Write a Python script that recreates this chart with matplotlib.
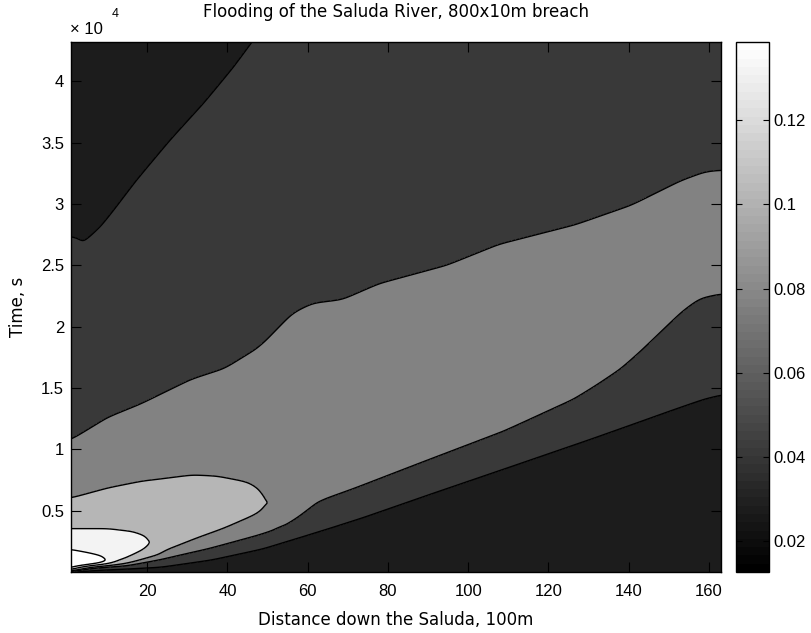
import numpy as np
import matplotlib
matplotlib.use("Agg")
import matplotlib.pyplot as plt
from matplotlib.colors import ListedColormap, Normalize
from matplotlib.cm import ScalarMappable

plt.rcParams['font.family'] = ['Liberation Sans', 'DejaVu Sans']

# ---------------- data ----------------
# depth contour levels (m); each filled band takes the colour of its lower level
levels = [0.027, 0.042, 0.076, 0.103, 0.131, 0.137]
depth_min, depth_max = 0.0127, 0.1386
base_depth = 0.030

# crossing times (units of 1e4 s) of each depth level along the river (x in 100 m)
# level 0.042
x_rise_042 = [1, 10, 23, 35.5, 48, 56.3, 64.7, 73, 90, 110, 130, 150, 158, 163]
t_rise_042 = [0.002, 0.02, 0.04, 0.10, 0.19, 0.275, 0.357, 0.445, 0.64, 0.865, 1.09, 1.32, 1.41, 1.45]
x_fall_042 = [1, 3, 5.5, 10.5, 18.8, 27.2, 35.5, 43, 47.2, 60, 100, 163]
t_fall_042 = [2.73, 2.66, 2.68, 2.84, 3.2, 3.53, 3.83, 4.13, 4.32, 4.86, 6.5, 9.0]
# level 0.076
x_rise_076 = [1, 6, 14.7, 23, 35.5, 48, 56.3, 59.7, 63.8, 73, 90, 110, 127.2, 133, 138.8, 143.8, 149.7, 153.8, 158, 163]
t_rise_076 = [0.004, 0.03, 0.05, 0.10, 0.19, 0.30, 0.385, 0.467, 0.576, 0.685, 0.9, 1.15, 1.41, 1.53, 1.66, 1.81, 2.0, 2.13, 2.23, 2.265]
x_fall_076 = [1, 10.5, 18.8, 31.3, 39.7, 48, 56.3, 61.3, 68.8, 78, 95, 108, 127.2, 141.3, 153.8, 159.7, 163]
t_fall_076 = [1.068, 1.26, 1.37, 1.57, 1.66, 1.83, 2.11, 2.19, 2.22, 2.35, 2.5, 2.67, 2.83, 2.99, 3.19, 3.26, 3.27]
# level 0.103
x_rise_103 = [1, 6.3, 14.7, 23, 33, 39.7, 47.2, 50.5]
t_rise_103 = [0.006, 0.04, 0.07, 0.14, 0.275, 0.357, 0.47, 0.56]
x_fall_103 = [1, 10.5, 18.8, 31.3, 37.2, 44.7, 48.8, 50.5]
t_fall_103 = [0.60, 0.685, 0.74, 0.79, 0.78, 0.73, 0.63, 0.56]
# level 0.131
x_rise_131 = [1, 4.7, 10.5, 16.3, 20.5, 22.2]
t_rise_131 = [0.008, 0.04, 0.06, 0.11, 0.19, 0.25]
x_fall_131 = [1, 10.5, 17.2, 21.3, 22.2]
t_fall_131 = [0.357, 0.357, 0.33, 0.27, 0.25]
# level 0.137
x_rise_137 = [1, 4.7, 9.2, 11.2]
t_rise_137 = [0.01, 0.04, 0.07, 0.095]
x_fall_137 = [1, 6.3, 10, 11.2]
t_fall_137 = [0.19, 0.155, 0.12, 0.095]

x_ticks = [20, 40, 60, 80, 100, 120, 140, 160]
y_ticks = [5000, 10000, 15000, 20000, 25000, 30000, 35000, 40000]
cbar_ticks = [0.02, 0.04, 0.06, 0.08, 0.10, 0.12]
x_range = (1, 163)
t_range = (0, 43200)

# ---------------- build depth field ----------------
crossings = [
    (levels[1], x_rise_042, t_rise_042, x_fall_042, t_fall_042),
    (levels[2], x_rise_076, t_rise_076, x_fall_076, t_fall_076),
    (levels[3], x_rise_103, t_rise_103, x_fall_103, t_fall_103),
    (levels[4], x_rise_131, t_rise_131, x_fall_131, t_fall_131),
    (levels[5], x_rise_137, t_rise_137, x_fall_137, t_fall_137),
]

x_grid = np.linspace(x_range[0], x_range[1], 500)
t_grid = np.linspace(t_range[0], t_range[1], 900)
Z = np.empty((t_grid.size, x_grid.size))
for j, x in enumerate(x_grid):
    present = []
    for k, (lvl, xr, tr, xf, tf) in enumerate(crossings):
        if x < max(xr[0], xf[0]) or x > min(xr[-1], xf[-1]):
            continue
        r = np.interp(x, xr, tr)
        f = np.interp(x, xf, tf)
        if f - r < 0.003:
            continue
        present.append((k, lvl, r, f))
    ts = [0.0]
    hs = [base_depth]
    for k, lvl, r, f in present:
        ts.append(r)
        hs.append(lvl)
    if present:
        k, lvl, r, f = present[-1]
        nxt = crossings[k + 1][0] if k + 1 < len(crossings) else depth_max
        ts.append(0.5 * (r + f))
        hs.append(0.5 * (lvl + nxt))
    for k, lvl, r, f in reversed(present):
        ts.append(f)
        hs.append(lvl)
    ts.append(max(ts[-1] + 0.5, 12.0))
    hs.append(base_depth)
    Z[:, j] = np.interp(t_grid / 1e4, ts, hs)


def smooth(a, sigma, axis):
    n = int(3 * sigma) + 1
    k = np.exp(-0.5 * (np.arange(-n, n + 1) / sigma) ** 2)
    k /= k.sum()
    pad = [(0, 0), (0, 0)]
    pad[axis] = (n, n)
    ap = np.pad(a, pad, mode='edge')
    return np.apply_along_axis(lambda v: np.convolve(v, k, mode='valid'), axis, ap)


Z = smooth(Z, 4.0, axis=1)
Z = smooth(Z, 1.5, axis=0)

# ---------------- plot ----------------
cmap = ListedColormap(np.repeat(np.linspace(0, 1, 64)[:, None], 3, axis=1))
norm = Normalize(depth_min, depth_max)
fill_colors = [cmap(norm(v)) for v in levels]

FS = 12
LABEL_FONT = ['DejaVu Sans']
fig = plt.figure(figsize=(8.12, 6.33), dpi=100)
ax = fig.add_axes([71 / 812, 1 - 572 / 633, 650 / 812, 530 / 633])
X, T = np.meshgrid(x_grid, t_grid)
ax.contourf(X, T, Z, levels=levels + [1.0], colors=fill_colors)
ax.contour(X, T, Z, levels=levels[1:], colors='black', linewidths=1.0)
ax.set_xlim(*x_range)
ax.set_ylim(*t_range)
ax.set_xticks(x_ticks)
ax.set_yticks(y_ticks)
ax.set_yticklabels(['%g' % (v / 1e4) for v in y_ticks])
ax.tick_params(direction='in', top=True, right=True, length=7, width=0.8, labelsize=FS)
ax.tick_params(axis='x', pad=9)
ax.tick_params(axis='y', pad=5)
for s in ax.spines.values():
    s.set_linewidth(1.0)

cax = fig.add_axes([736 / 812, 1 - 572 / 633, 33 / 812, 530 / 633])
sm = ScalarMappable(norm=norm, cmap=cmap)
cb = fig.colorbar(sm, cax=cax, ticks=cbar_ticks)
cb.ax.set_yticklabels(['%g' % v for v in cbar_ticks])
cax.tick_params(axis='y', direction='in', left=True, right=True, length=4, width=0.8,
                labelsize=FS, pad=3)
cb.outline.set_linewidth(1.0)

fig.text(0.4877, 1 - 12 / 633, 'Flooding of the Saluda River, 800x10m breach',
         ha='center', va='center', fontsize=FS, family=LABEL_FONT)
fig.text(0.4877, 1 - 620 / 633, 'Distance down the Saluda, 100m',
         ha='center', va='center', fontsize=FS, family=LABEL_FONT)
fig.text(18 / 812, 1 - 307 / 633, 'Time, s', rotation=90, ha='center', va='center',
         fontsize=FS, family=LABEL_FONT)
fig.text(70 / 812, 1 - 30 / 633, '× 10', ha='left', va='center', fontsize=FS)
fig.text(112 / 812, 1 - 14 / 633, '4', ha='left', va='center', fontsize=9)

fig.savefig('out.png', dpi=100)
